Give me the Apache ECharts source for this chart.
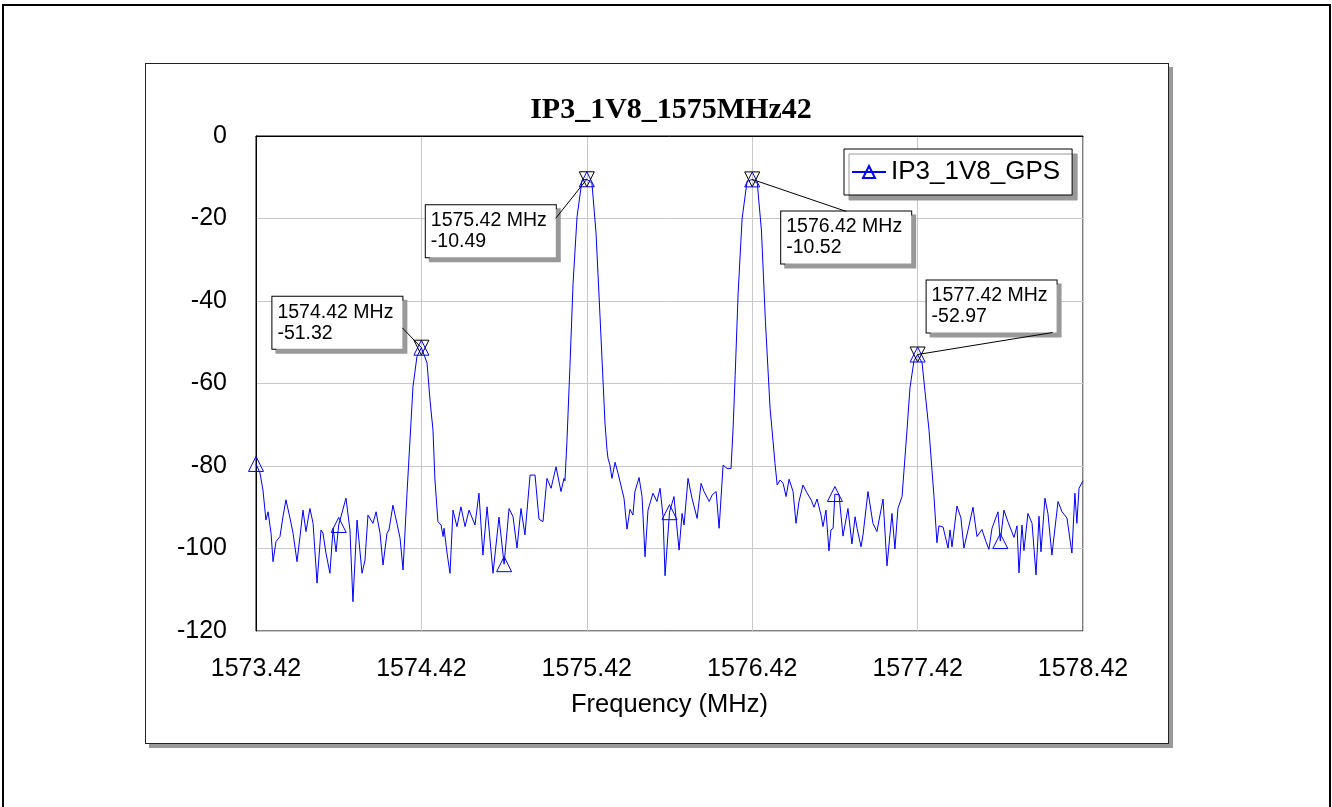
<!DOCTYPE html>
<html>
<head>
<meta charset="utf-8">
<title>IP3_1V8_1575MHz42</title>
<script src="https://cdn.jsdelivr.net/npm/echarts@6/dist/echarts.min.js"></script>
<style>
  html, body { margin: 0; padding: 0; background: #fff; width: 1332px; height: 807px; overflow: hidden; }
  #frame { position: absolute; left: 2px; top: 4px; width: 1325px; height: 900px; border: 2px solid #000; }
  #chart { position: absolute; left: 145px; top: 63px; width: 1022px; height: 679px; border: 1px solid #222; box-shadow: 4px 4px 0 #999; background: #fff; }
</style>
</head>
<body>
<div id="frame"></div>
<div id="chart"></div>
<script>
const chartTitle = 'IP3_1V8_1575MHz42'
const seriesName = 'IP3_1V8_GPS'
const xName = 'Frequency (MHz)'
const freqStart = 1573.42
const freqEnd = 1578.42

// trace, MHz / dB
const freqs = [
  1573.420, 1573.444, 1573.462, 1573.480, 1573.493, 1573.511, 1573.523, 1573.541, 1573.565, 1573.583,
  1573.601, 1573.626, 1573.644, 1573.668, 1573.686, 1573.704, 1573.722, 1573.746, 1573.765, 1573.789,
  1573.813, 1573.825, 1573.843, 1573.867, 1573.886, 1573.904, 1573.920, 1573.964, 1573.988, 1574.006,
  1574.031, 1574.061, 1574.079, 1574.097, 1574.127, 1574.146, 1574.170, 1574.188, 1574.212, 1574.224,
  1574.248, 1574.272, 1574.291, 1574.309, 1574.333, 1574.351, 1574.369, 1574.393, 1574.420,
  1574.454, 1574.472, 1574.490, 1574.502, 1574.520, 1574.539, 1574.551, 1574.557, 1574.575, 1574.593,
  1574.611, 1574.635, 1574.659, 1574.684, 1574.708, 1574.744, 1574.768, 1574.792, 1574.817, 1574.853,
  1574.889, 1574.920, 1574.950, 1574.974, 1574.998, 1575.022, 1575.046, 1575.077, 1575.107, 1575.131,
  1575.155, 1575.179, 1575.204, 1575.234, 1575.264, 1575.282, 1575.288, 1575.300, 1575.318, 1575.337,
  1575.361, 1575.391, 1575.420,
  1575.451, 1575.476, 1575.500, 1575.530, 1575.542, 1575.548, 1575.560, 1575.572, 1575.591, 1575.609,
  1575.633, 1575.645, 1575.663, 1575.681, 1575.699, 1575.711, 1575.736, 1575.754, 1575.772, 1575.790,
  1575.820, 1575.844, 1575.863, 1575.881, 1575.893, 1575.920, 1575.947, 1575.978, 1575.996, 1576.008,
  1576.032, 1576.056, 1576.087, 1576.111, 1576.129, 1576.160, 1576.178, 1576.202, 1576.220, 1576.244,
  1576.268, 1576.292, 1576.304, 1576.317, 1576.335, 1576.359, 1576.389, 1576.420,
  1576.451, 1576.476, 1576.500, 1576.528, 1576.540, 1576.558, 1576.571, 1576.589, 1576.607, 1576.613,
  1576.625, 1576.643, 1576.667, 1576.685, 1576.703, 1576.727, 1576.751, 1576.776, 1576.794, 1576.812,
  1576.836, 1576.848, 1576.866, 1576.884, 1576.896, 1576.909, 1576.920, 1576.945, 1576.969, 1576.999,
  1577.023, 1577.042, 1577.054, 1577.078, 1577.090, 1577.120, 1577.150, 1577.174, 1577.211, 1577.235,
  1577.265, 1577.283, 1577.301, 1577.326, 1577.338, 1577.356, 1577.374, 1577.398, 1577.420,
  1577.447, 1577.465, 1577.489, 1577.507, 1577.519, 1577.537, 1577.549, 1577.574, 1577.604, 1577.616,
  1577.628, 1577.658, 1577.682, 1577.700, 1577.725, 1577.755, 1577.779, 1577.809, 1577.833, 1577.851,
  1577.870, 1577.906, 1577.920, 1577.942, 1577.966, 1578.003, 1578.021, 1578.033, 1578.051, 1578.063,
  1578.087, 1578.112, 1578.136, 1578.154, 1578.166, 1578.190, 1578.208, 1578.232, 1578.269, 1578.293,
  1578.323, 1578.353, 1578.371, 1578.383, 1578.396, 1578.420
]
const levels = [
  -79.5, -81.7, -85.8, -93.1, -91.1, -96.3, -103.2, -98.3, -97.1, -92.3,
  -88.2, -92.7, -96.3, -103.2, -97.1, -90.7, -95.9, -90.3, -93.9, -108.4,
  -95.5, -96.3, -101.1, -106.0, -95.1, -100.8, -94.3, -87.8, -95.5, -112.9,
  -93.1, -106.0, -102.8, -91.9, -93.9, -91.1, -96.3, -104.0, -96.3, -95.5,
  -89.5, -93.9, -97.5, -105.2, -86.6, -73.7, -60.8, -53.5, -51.32,
  -55.0, -64.0, -71.3, -83.4, -93.5, -94.3, -97.1, -95.1, -101.1, -106.0,
  -90.7, -94.7, -89.9, -94.7, -90.7, -94.3, -86.6, -101.6, -89.9, -106.0,
  -92.4, -103.8, -90.3, -92.3, -99.9, -90.3, -96.7, -82.2, -82.2, -92.9,
  -93.5, -83.0, -85.4, -80.2, -86.2, -83.0, -83.6, -74.0, -55.9, -35.7,
  -19.6, -10.7, -10.49,
  -11.4, -23.6, -43.8, -69.6, -76.0, -78.1, -79.8, -83.0, -79.1, -81.8,
  -85.8, -87.8, -95.3, -90.5, -91.9, -86.2, -82.8, -87.4, -102.0, -90.7,
  -86.6, -88.6, -85.4, -92.3, -106.6, -91.2, -87.4, -100.4, -91.5, -94.3,
  -83.0, -87.8, -92.7, -84.2, -86.2, -88.6, -87.0, -86.2, -95.1, -79.8,
  -80.6, -80.6, -71.3, -58.0, -38.0, -20.0, -11.0, -10.52,
  -11.5, -23.0, -45.0, -66.0, -71.3, -79.4, -84.6, -83.4, -84.2, -84.6,
  -87.4, -83.2, -86.2, -93.9, -88.6, -84.6, -86.5, -88.2, -90.0, -88.0,
  -91.9, -94.7, -90.7, -100.6, -95.5, -95.1, -86.8, -87.0, -97.0, -90.3,
  -98.9, -92.3, -95.1, -99.6, -96.7, -86.2, -93.9, -95.9, -88.0, -104.2,
  -91.5, -100.1, -90.3, -87.4, -87.8, -71.3, -61.0, -54.5, -52.97,
  -55.0, -62.0, -71.3, -81.0, -87.4, -98.6, -94.5, -94.8, -99.9, -95.5,
  -99.6, -89.7, -92.6, -99.9, -95.5, -90.0, -97.1, -95.4, -98.3, -100.2,
  -95.1, -91.1, -98.2, -90.7, -93.5, -97.3, -94.5, -105.9, -94.3, -100.5,
  -91.5, -93.9, -106.4, -92.2, -100.8, -87.8, -91.5, -101.6, -88.6, -91.1,
  -92.6, -101.1, -86.6, -93.9, -85.4, -83.6
]

// points of the trace that carry the series triangle
const symbolFreqs = [1573.42, 1573.92, 1574.42, 1574.92, 1575.42, 1575.92, 1576.42, 1576.92, 1577.42, 1577.92]

// marker readouts
const peakFreqs = [1574.42, 1575.42, 1576.42, 1577.42]
const peakLevels = [-51.32, -10.49, -10.52, -52.97]

// readout box left edge / vertical centre relative to its marker, px
const calloutShift = [[-149, -25], [-161, 52], [29, 58], [9, -48]]
// where the leader meets the box, as fractions of its width / height
const calloutAnchor = [[1, 0.6], [1, 0.25], [0.5, 0], [0.97, 1]]

const sans = "'Liberation Sans', Arial, sans-serif"
const boxFont = 19.5
const boxLine = 21
const boxPad = [5, 9, 5, 5]

const lineData = freqs.map(function(f, i) {
  const item = { value: [f - freqStart, levels[i]] }
  const marked = symbolFreqs.some(function(s) { return Math.abs(s - f) < 1e-6 })
  if (!marked) item.symbol = 'none'
  return item
})

const peakData = peakFreqs.map(function(f, i) {
  return { name: f.toFixed(2) + ' MHz', value: [f - freqStart, peakLevels[i]] }
})

const chart = echarts.init(document.getElementById('chart'))
chart.setOption({
  animation: false,
  backgroundColor: '#fff',
  title: {
    text: chartTitle,
    left: 525,
    top: 31,
    padding: 0,
    textAlign: 'center',
    textStyle: { fontFamily: "'Liberation Serif', 'Times New Roman', serif", fontWeight: 'bold', fontSize: 30, color: '#000' }
  },
  legend: {
    data: [seriesName],
    left: 698,
    top: 85,
    padding: [10, 12, 10, 7],
    itemWidth: 34,
    itemHeight: 15,
    backgroundColor: '#fff',
    borderColor: '#000',
    borderWidth: 1,
    shadowColor: '#999',
    shadowBlur: 0,
    shadowOffsetX: 5,
    shadowOffsetY: 5,
    textStyle: { fontFamily: sans, fontSize: 26, color: '#000' }
  },
  grid: {
    left: 110,
    top: 72,
    right: 85,
    bottom: 112,
    show: true,
    borderColor: '#000',
    borderWidth: 1
  },
  xAxis: {
    type: 'value',
    min: 0,
    max: freqEnd - freqStart,
    interval: 1,
    name: xName,
    nameLocation: 'middle',
    nameGap: 61,
    nameTextStyle: { fontFamily: sans, fontSize: 25.5, color: '#000' },
    axisLine: { lineStyle: { color: '#000' } },
    axisTick: { show: false },
    axisLabel: {
      margin: 26,
      fontFamily: sans,
      fontSize: 25,
      color: '#000',
      formatter: function(v) { return (freqStart + v).toFixed(2) }
    },
    splitLine: { lineStyle: { color: '#c8c8c8' } }
  },
  yAxis: {
    type: 'value',
    min: -120,
    max: 0,
    interval: 20,
    axisLine: { show: true, lineStyle: { color: '#000' } },
    axisTick: { show: false },
    axisLabel: { margin: 29, fontFamily: sans, fontSize: 25, color: '#000' },
    splitLine: { lineStyle: { color: '#c8c8c8' } }
  },
  series: [
    {
      name: seriesName,
      type: 'line',
      data: lineData,
      symbol: 'triangle',
      symbolSize: 15,
      showAllSymbol: true,
      itemStyle: { color: 'transparent', borderColor: '#0000ff', borderWidth: 1 },
      lineStyle: { color: '#0000ff', width: 1 },
      emphasis: { disabled: true },
      z: 2
    },
    {
      name: 'markers',
      type: 'scatter',
      data: peakData,
      symbol: 'triangle',
      symbolRotate: 180,
      symbolSize: 15,
      itemStyle: { color: 'transparent', borderColor: '#000', borderWidth: 1, opacity: 1 },
      emphasis: { disabled: true },
      z: 3,
      label: {
        show: true,
        position: 'inside',
        formatter: function(p) { return p.name + '\n' + p.value[1].toFixed(2) },
        fontFamily: sans,
        fontSize: boxFont,
        lineHeight: boxLine,
        color: '#000',
        align: 'left',
        backgroundColor: '#fff',
        borderColor: '#000',
        borderWidth: 1,
        padding: boxPad,
        shadowColor: '#999',
        shadowBlur: 0,
        shadowOffsetX: 4,
        shadowOffsetY: 4
      },
      labelLayout: function(params) {
        const s = calloutShift[params.dataIndex]
        return { dx: s[0], dy: s[1] }
      }
    }
  ]
})

// leader lines from each marker to its readout box
const ctx = document.createElement('canvas').getContext('2d')
ctx.font = boxFont + 'px ' + sans
const leaders = peakData.map(function(d, i) {
  const p = chart.convertToPixel({ seriesIndex: 1 }, d.value)
  const text = d.value[1].toFixed(2)
  const w = Math.max(ctx.measureText(d.name).width, ctx.measureText(text).width) + boxPad[1] + boxPad[3]
  const h = 2 * boxLine + boxPad[0] + boxPad[2]
  const s = calloutShift[i]
  const a = calloutAnchor[i]
  return [
    { coord: d.value },
    { x: p[0] + s[0] + a[0] * w, y: p[1] + s[1] - h / 2 + a[1] * h }
  ]
})
chart.setOption({
  series: [{}, {
    markLine: {
      silent: true,
      symbol: 'none',
      label: { show: false },
      lineStyle: { color: '#000', width: 1, type: 'solid' },
      data: leaders
    }
  }]
})
</script>
</body>
</html>
